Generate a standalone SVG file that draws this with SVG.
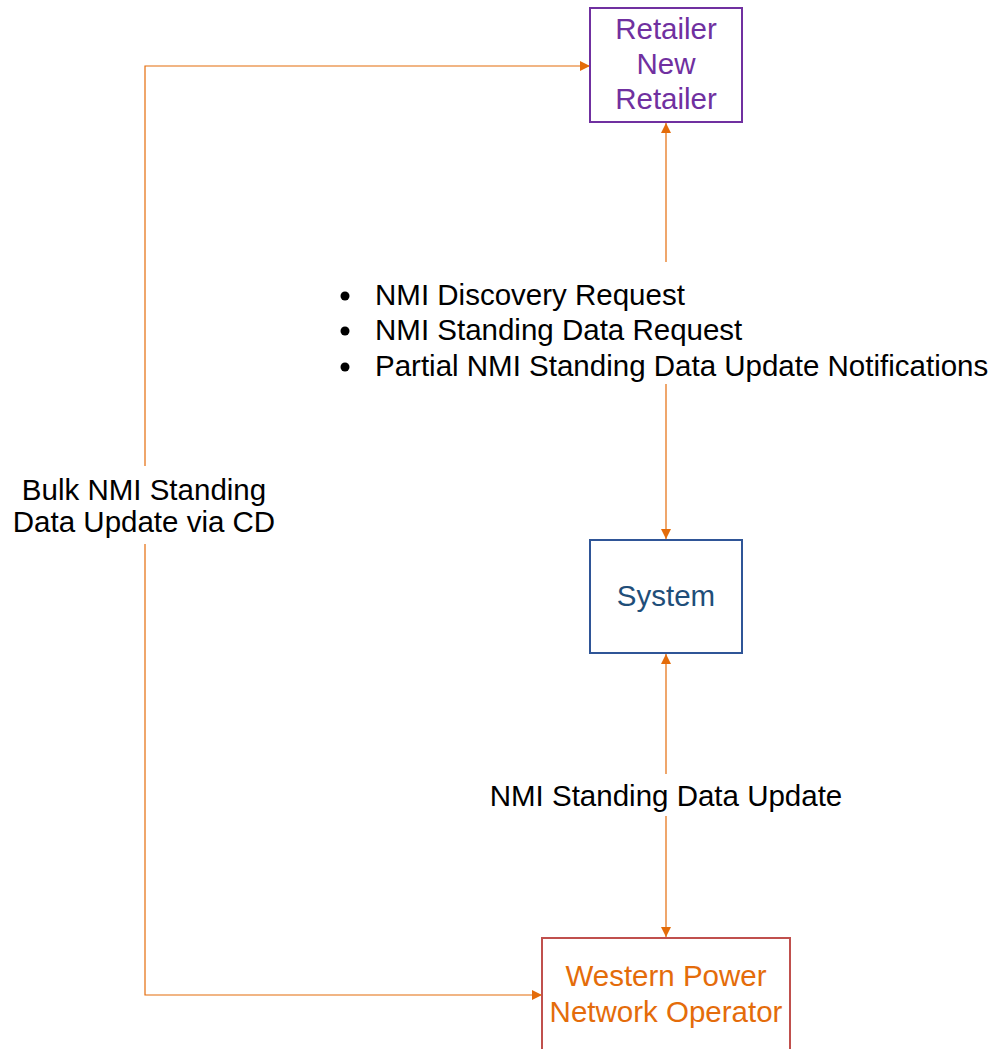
<svg xmlns="http://www.w3.org/2000/svg" width="993" height="1049" viewBox="0 0 993 1049">
<style>
text{font-family:"Liberation Sans",Arial,sans-serif;font-size:29.5px}
.box{fill:#fff;stroke-width:2}
.c{fill:none;stroke:#E46C0A;stroke-width:1.2}
.lbl{fill:#000}
</style>
<defs>
<marker id="ah" viewBox="0 0 10 10" refX="10" refY="5" markerWidth="10" markerHeight="10" markerUnits="userSpaceOnUse" orient="auto-start-reverse">
<path d="M0,0 L10,5 L0,10 z" fill="#E46C0A"/>
</marker>
</defs>
<rect width="993" height="1049" fill="#fff"/>
<g id="connectors">
<path class="c" d="M590,66 H145 V995 H542" marker-start="url(#ah)" marker-end="url(#ah)"/>
<path class="c" d="M666,123 V539" marker-start="url(#ah)" marker-end="url(#ah)"/>
<path class="c" d="M666,654 V937" marker-start="url(#ah)" marker-end="url(#ah)"/>
<rect x="330" y="262" width="663" height="122" fill="#fff"/>
<rect x="5" y="466" width="280" height="78" fill="#fff"/>
<rect x="485" y="774" width="362" height="42" fill="#fff"/>
<g class="lbl">
<circle cx="345" cy="296" r="4.5"/>
<circle cx="345" cy="331" r="4.5"/>
<circle cx="345" cy="367" r="4.5"/>
<text x="375" y="305">NMI Discovery Request</text>
<text x="375" y="340">NMI Standing Data Request</text>
<text x="375" y="376">Partial NMI Standing Data Update Notifications</text>
<text x="144" y="500" text-anchor="middle">Bulk NMI Standing</text>
<text x="144" y="532" text-anchor="middle">Data Update via CD</text>
<text x="666" y="806" text-anchor="middle">NMI Standing Data Update</text>
</g>
</g>
<g id="retailer">
<rect class="box" x="590" y="8" width="152" height="114" stroke="#7030A0"/>
<g fill="#7030A0" text-anchor="middle">
<text x="666" y="39">Retailer</text>
<text x="666" y="74">New</text>
<text x="666" y="109">Retailer</text>
</g>
</g>
<g id="system">
<rect class="box" x="590" y="540" width="152" height="113" stroke="#2F5597"/>
<text x="666" y="606" fill="#1F4E79" text-anchor="middle">System</text>
</g>
<g id="wpno">
<rect class="box" x="542" y="938" width="248" height="120" stroke="#C0504D"/>
<g fill="#E46C0A" text-anchor="middle">
<text x="666" y="986">Western Power</text>
<text x="666" y="1022">Network Operator</text>
</g>
</g>
</svg>
